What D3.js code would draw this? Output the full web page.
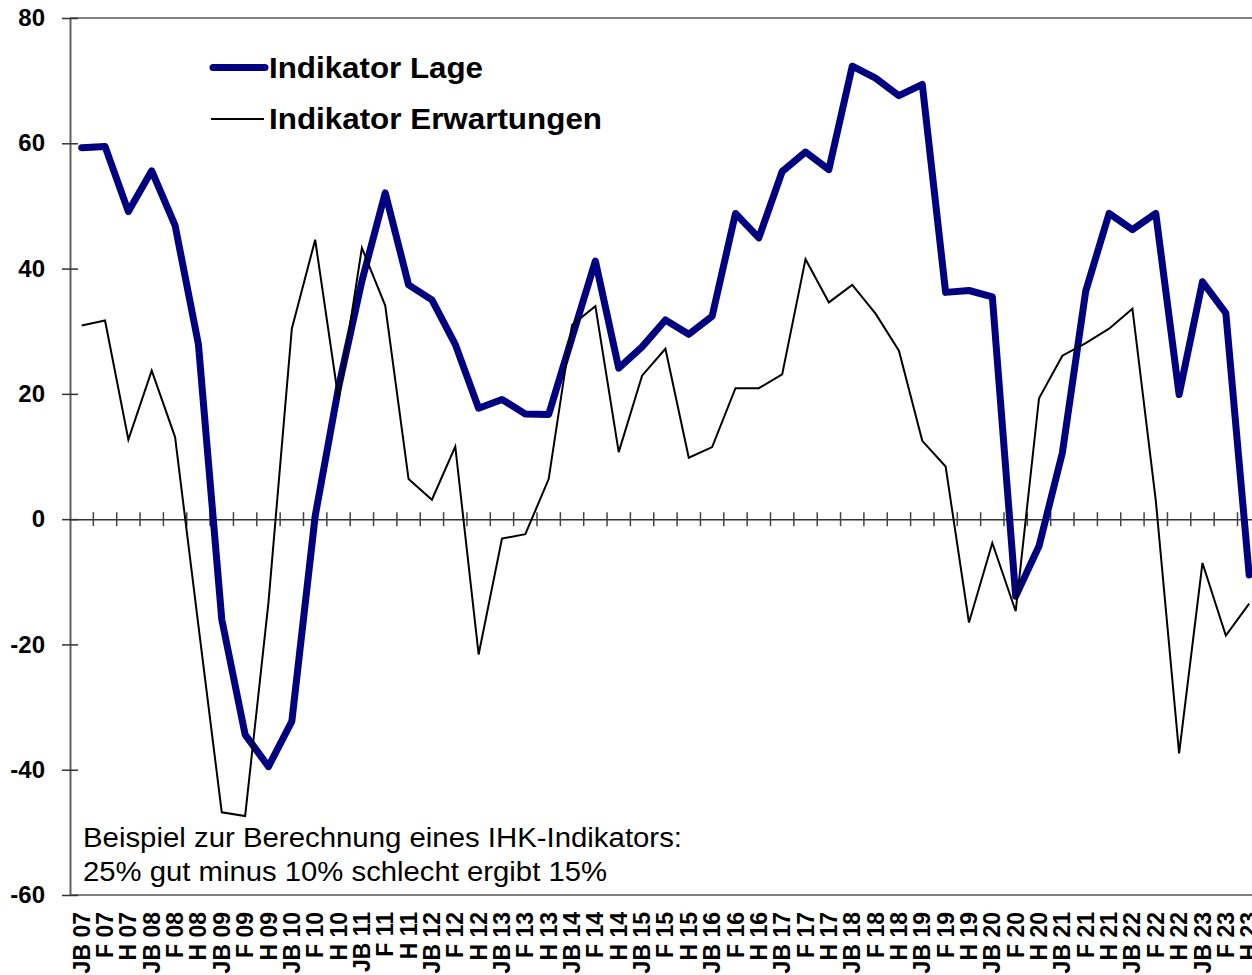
<!DOCTYPE html>
<html>
<head>
<meta charset="utf-8">
<script src="https://cdn.jsdelivr.net/npm/d3@7"></script>
<style>
  body { margin: 0; background: #fff; }
  svg { display: block; font-family: Arial, "Liberation Sans", sans-serif; }
</style>
</head>
<body>
<div id="chart"></div>
<script>
// categories: JB = Jahresbeginn, F = Frühsommer, H = Herbst
var years = ["07","08","09","10","11","12","13","14","15","16","17","18","19","20","21","22","23"];
var seasons = ["JB", "F", "H"];
var categories = [];
years.forEach(function(y) {
    seasons.forEach(function(s) { categories.push(s + " " + y); });
});

var lage = [59.3, 59.5, 49.1, 55.6, 46.9, 27.9, -16.0, -34.4, -39.5, -32.3,
    0.5, 21, 38, 52.1, 37.4, 35.0, 27.9, 17.7, 19.1, 16.8,
    16.7, 29, 41.2, 24.1, 27.5, 31.8, 29.5, 32.4, 48.8, 44.9,
    55.5, 58.6, 55.8, 72.3, 70.4, 67.6, 69.4, 36.2, 36.5, 35.5,
    -12.3, -4.3, 10.6, 36.4, 48.8, 46.2, 48.8, 19.9, 37.9, 32.9,
    -8.9];

var erwartungen = [30.9, 31.7, 12.7, 23.7, 13.1, -17, -46.8, -47.4, -13.3, 30.4,
    44.6, 19.1, 43.3, 34.1, 6.4, 3.1, 11.6, -21.6, -3.1, -2.4,
    6.4, 31.0, 34.0, 10.7, 22.9, 27.2, 9.8, 11.5, 20.9, 20.9,
    23.1, 41.5, 34.6, 37.4, 32.8, 26.9, 12.5, 8.4, -16.5, -3.8,
    -14.7, 19.3, 26.1, 28.1, 30.4, 33.6, 3, -37.4, -7.0, -18.6,
    -13.5];

var yTicks = [80, 60, 40, 20, 0, -20, -40, -60];

var svgWidth = 1252;
var svgHeight = 975;
var plot = { left: 70, top: 18, bottom: 895, band: 23.35 };
var plotRight = plot.left + plot.band * categories.length;

var svg = d3.select("#chart")
    .append("svg")
    .attr("width", svgWidth)
    .attr("height", svgHeight);

var xScale = d3.scaleBand()
    .domain(categories)
    .range([plot.left, plotRight])
    .padding(0);

var yScale = d3.scaleLinear()
    .domain([-60, 80])
    .range([plot.bottom, plot.top]);

var xMid = function(c) { return xScale(c) + xScale.bandwidth() / 2; };

// frame lines top and bottom
svg.append("line")
    .attr("x1", plot.left).attr("x2", plotRight)
    .attr("y1", plot.top).attr("y2", plot.top)
    .attr("stroke", "#808080").attr("stroke-width", 2);
svg.append("line")
    .attr("x1", plot.left).attr("x2", plotRight)
    .attr("y1", plot.bottom).attr("y2", plot.bottom)
    .attr("stroke", "#808080").attr("stroke-width", 2);

// y axis
var leftAxis = d3.axisLeft(yScale)
    .tickValues(yTicks)
    .tickFormat(d => String(d))
    .tickSize(0)
    .tickPadding(25);

var yAxis = svg.append("g")
    .attr("transform", `translate(${plot.left},0)`)
    .call(leftAxis);
yAxis.select(".domain").attr("stroke", "#606060").attr("stroke-width", 2);
yAxis.selectAll("text")
    .style("font-size", "24px")
    .style("font-weight", "bold")
    .attr("fill", "#000");
yAxis.selectAll(".tick").append("line")
    .attr("x1", -8).attr("x2", 8)
    .attr("stroke", "#333").attr("stroke-width", 1.5);

// zero line with category ticks
var zeroAxis = d3.axisBottom(xScale)
    .tickValues([])
    .tickSizeOuter(0);
var zeroG = svg.append("g")
    .attr("transform", `translate(0,${yScale(0)})`)
    .call(zeroAxis);
zeroG.select(".domain").attr("stroke", "#333").attr("stroke-width", 1.5);
zeroG.selectAll("line.sep")
    .data(categories.slice(1))
    .enter()
    .append("line")
    .attr("class", "sep")
    .attr("x1", d => xScale(d)).attr("x2", d => xScale(d))
    .attr("y1", -7).attr("y2", 7)
    .attr("stroke", "#444").attr("stroke-width", 1.5);

// x labels, rotated
var xAxis = d3.axisBottom(xScale).tickSize(0).tickPadding(0);
var xG = svg.append("g")
    .attr("transform", `translate(0,912)`)
    .call(xAxis);
xG.select(".domain").remove();
xG.selectAll("text")
    .attr("transform", "rotate(-90)")
    .attr("x", 0)
    .attr("y", 0)
    .attr("dy", "0.35em")
    .style("text-anchor", "end")
    .style("font-size", "23px")
    .style("font-weight", "bold")
    .attr("fill", "#000");

// lines
var lineGen = d3.line()
    .x((d, i) => xMid(categories[i]))
    .y(d => yScale(d));

svg.append("path")
    .datum(lage)
    .attr("d", lineGen)
    .attr("fill", "none")
    .attr("stroke", "#000080")
    .attr("stroke-width", 7)
    .attr("stroke-linejoin", "round")
    .attr("stroke-linecap", "round");

svg.append("path")
    .datum(erwartungen)
    .attr("d", lineGen)
    .attr("fill", "none")
    .attr("stroke", "#000")
    .attr("stroke-width", 2);

// legend
var legend = svg.append("g");
legend.append("line")
    .attr("x1", 213).attr("x2", 265)
    .attr("y1", 67.5).attr("y2", 67.5)
    .attr("stroke", "#000080").attr("stroke-width", 7)
    .attr("stroke-linecap", "round");
legend.append("text")
    .attr("x", 269).attr("y", 78)
    .attr("textLength", 214).attr("lengthAdjust", "spacingAndGlyphs")
    .style("font-size", "30px").style("font-weight", "bold")
    .text("Indikator Lage");
legend.append("line")
    .attr("x1", 211).attr("x2", 264)
    .attr("y1", 119).attr("y2", 119)
    .attr("stroke", "#000").attr("stroke-width", 2);
legend.append("text")
    .attr("x", 269).attr("y", 129)
    .attr("textLength", 333).attr("lengthAdjust", "spacingAndGlyphs")
    .style("font-size", "30px").style("font-weight", "bold")
    .text("Indikator Erwartungen");

// note
svg.append("text")
    .attr("x", 83).attr("y", 847)
    .attr("textLength", 599).attr("lengthAdjust", "spacingAndGlyphs")
    .style("font-size", "27px")
    .text("Beispiel zur Berechnung eines IHK-Indikators:");
svg.append("text")
    .attr("x", 83).attr("y", 881)
    .attr("textLength", 524).attr("lengthAdjust", "spacingAndGlyphs")
    .style("font-size", "27px")
    .text("25% gut minus 10% schlecht ergibt 15%");
</script>
</body>
</html>
